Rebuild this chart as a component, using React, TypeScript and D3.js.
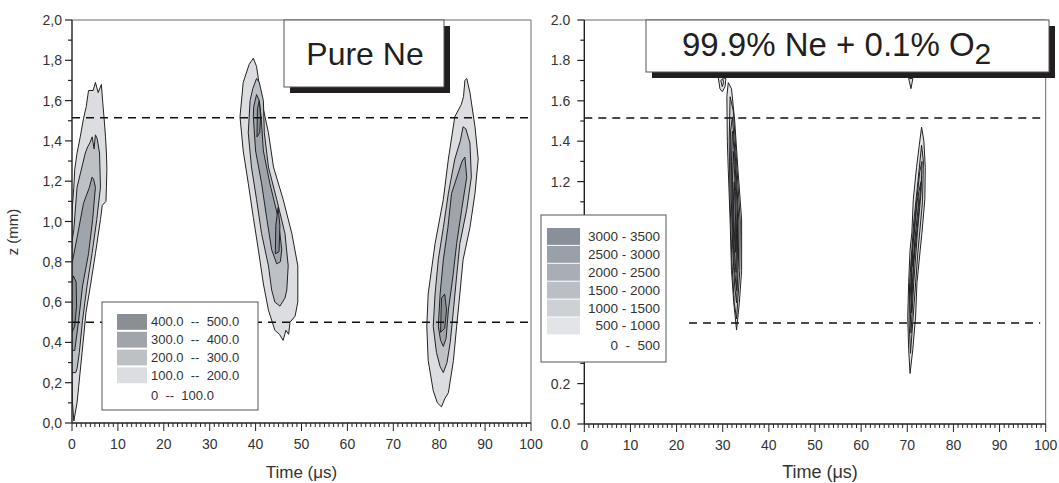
import React, { useEffect, useRef } from 'react'
import * as d3 from 'd3'

// axis ticks and labels
const timeTicks = [0, 10, 20, 30, 40, 50, 60, 70, 80, 90, 100]
const zTicks = [0, 0.2, 0.4, 0.6, 0.8, 1.0, 1.2, 1.4, 1.6, 1.8, 2.0]
const leftZLabels = ['0,0', '0,2', '0,4', '0,6', '0,8', '1,0', '1,2', '1,4', '1,6', '1,8', '2,0']
const rightZLabels = ['0.0', '0.2', '0.4', '0.6', '0.8', '1.0', '1.2', '1.4', '1.6', '1.8', '2.0']
const dashedZ = [0.5, 1.515]

// legends
const pureNeRanges = ['400.0  --  500.0', '300.0  --  400.0', '200.0  --  300.0', '100.0  --  200.0', '0  --  100.0']
const pureNeColors = ['#8a8f96', '#a0a5ac', '#bdc0c5', '#dcdde0', 'none']
const oxyRanges = ['3000 - 3500', '2500 - 3000', '2000 - 2500', '1500 - 2000', '1000 - 1500', '500 - 1000', '0  -  500']
const oxyColors = ['#8a9099', '#9aa0a8', '#a9aeb6', '#babfc5', '#cdd0d5', '#e2e4e7', 'none']

// contour outlines, [time µs, z mm], level 1 = lowest filled band
const pureNeBlob1 = [
  { level: 1, pts: [[0.4, 0.01], [1.1, 0.1], [1.45, 0.18], [2.2, 0.35], [3.05, 0.55], [4.0, 0.68], [5.1, 0.84], [6.2, 1.01], [6.6, 1.08], [7.4, 1.1], [7.5, 1.17], [7.6, 1.26], [7.5, 1.34], [7.3, 1.42], [7.0, 1.51], [6.7, 1.59], [6.4, 1.68], [5.7, 1.64], [5.1, 1.69], [4.6, 1.65], [3.6, 1.65], [3.1, 1.57], [2.5, 1.51], [1.8, 1.42], [1.1, 1.34], [0.6, 1.26], [0.4, 1.17], [0.1, 1.08], [0, 1.0], [0, 0.3], [0.1, 0.1]] },
  { level: 2, pts: [[0, 0.25], [0.8, 0.25], [1.1, 0.27], [1.6, 0.35], [2.3, 0.51], [3.27, 0.68], [4.36, 0.84], [5.4, 1.01], [6.2, 1.17], [6.0, 1.34], [5.5, 1.41], [5.1, 1.43], [4.8, 1.36], [4.4, 1.42], [3.9, 1.39], [3.4, 1.37], [2.9, 1.34], [1.1, 1.17], [0.4, 0.96], [0, 0.9]] },
  { level: 3, pts: [[0, 0.36], [0.6, 0.36], [1.45, 0.51], [2.3, 0.68], [3.6, 0.84], [4.5, 1.01], [5.1, 1.17], [4.7, 1.21], [4.36, 1.22], [3.8, 1.17], [2.5, 1.09], [1.1, 0.92], [0, 0.79]] },
  { level: 4, pts: [[0, 0.45], [0.6, 0.48], [1.0, 0.58], [0.9, 0.7], [0.3, 0.73], [0, 0.7]] },
]
const pureNeBlob2 = [
  { level: 1, pts: [[46.0, 0.41], [46.6, 0.46], [47.2, 0.44], [47.5, 0.5], [48.6, 0.53], [49.2, 0.6], [49.2, 0.78], [47.9, 0.94], [46.0, 1.11], [43.9, 1.27], [42.8, 1.44], [41.3, 1.6], [40.2, 1.77], [39.5, 1.81], [38.6, 1.78], [37.3, 1.69], [36.6, 1.52], [37.3, 1.35], [38.4, 1.19], [39.5, 1.02], [40.6, 0.86], [41.7, 0.69], [42.8, 0.56], [44.2, 0.46], [45.2, 0.44]] },
  { level: 2, pts: [[45.3, 0.58], [46.4, 0.62], [46.8, 0.66], [47.1, 0.78], [46.4, 0.94], [44.6, 1.11], [42.8, 1.27], [41.9, 1.44], [41.7, 1.6], [40.8, 1.69], [40.2, 1.71], [39.4, 1.66], [38.8, 1.6], [38.4, 1.44], [39.1, 1.27], [40.2, 1.11], [41.3, 0.94], [42.8, 0.78], [43.5, 0.66], [44.2, 0.6]] },
  { level: 3, pts: [[44.6, 0.79], [45.4, 0.8], [45.7, 0.86], [44.9, 1.02], [43.1, 1.19], [41.7, 1.35], [41.2, 1.52], [40.8, 1.6], [40.2, 1.63], [39.6, 1.57], [39.5, 1.52], [40.0, 1.35], [41.3, 1.19], [42.4, 1.02], [43.5, 0.86]] },
  { level: 4, pts: [[40.3, 1.42], [40.9, 1.44], [41.1, 1.52], [40.8, 1.6], [40.4, 1.56]] },
  { level: 4, pts: [[44.3, 0.84], [45.1, 0.85], [45.3, 0.98], [44.9, 1.07], [44.4, 0.98]] },
]
const pureNeBlob3 = [
  { level: 1, pts: [[80.5, 0.08], [81.2, 0.12], [82.0, 0.15], [83.1, 0.31], [83.8, 0.48], [84.5, 0.64], [85.2, 0.81], [86.7, 0.97], [87.8, 1.14], [88.5, 1.31], [87.8, 1.47], [86.7, 1.64], [86.0, 1.71], [85.6, 1.7], [85.3, 1.62], [84.8, 1.58], [83.4, 1.52], [82.0, 1.31], [80.9, 1.11], [79.1, 0.89], [77.6, 0.64], [77.3, 0.48], [77.6, 0.31], [78.7, 0.16], [79.6, 0.1]] },
  { level: 2, pts: [[80.9, 0.25], [81.7, 0.3], [82.4, 0.4], [83.1, 0.56], [83.8, 0.73], [84.5, 0.89], [86.0, 1.06], [87.0, 1.22], [86.7, 1.39], [85.8, 1.46], [85.2, 1.47], [84.6, 1.4], [83.4, 1.31], [82.0, 1.14], [80.9, 0.97], [79.8, 0.81], [79.1, 0.64], [78.7, 0.48], [79.4, 0.35], [80.2, 0.28]] },
  { level: 3, pts: [[80.9, 0.38], [81.5, 0.42], [82.0, 0.56], [83.0, 0.73], [83.8, 0.89], [84.9, 1.06], [86.0, 1.22], [85.6, 1.32], [85.0, 1.3], [82.7, 1.14], [81.9, 0.97], [80.9, 0.81], [80.2, 0.64], [79.8, 0.48], [80.3, 0.41]] },
  { level: 4, pts: [[80.3, 0.45], [81.2, 0.47], [81.6, 0.56], [81.2, 0.64], [80.5, 0.62]] },
]
const oxyBlob1 = [
  { level: 1, pts: [[33.0, 0.465], [33.6, 0.6], [34.1, 0.76], [34.1, 1.01], [33.3, 1.26], [32.6, 1.5], [31.9, 1.66], [31.2, 1.69], [30.9, 1.62], [31.0, 1.4], [31.2, 1.26], [31.6, 1.01], [31.9, 0.76], [32.4, 0.6]] },
  { level: 2, pts: [[33.0, 0.52], [33.7, 0.76], [33.8, 1.0], [33.0, 1.3], [32.3, 1.55], [31.6, 1.62], [31.4, 1.4], [31.6, 1.1], [32.0, 0.8], [32.5, 0.6]] },
  { level: 3, pts: [[33.0, 0.6], [33.4, 0.8], [33.5, 1.0], [32.8, 1.3], [32.1, 1.52], [31.7, 1.45], [31.8, 1.15], [32.2, 0.85], [32.6, 0.68]] },
  { level: 4, pts: [[33.0, 0.66], [33.2, 0.85], [33.2, 1.05], [32.6, 1.32], [32.1, 1.45], [31.9, 1.3], [32.1, 1.0], [32.5, 0.78]] },
  { level: 5, pts: [[32.9, 0.75], [33.0, 0.95], [32.8, 1.15], [32.3, 1.35], [32.1, 1.2], [32.4, 0.9], [32.7, 0.8]] },
  { level: 6, pts: [[32.8, 0.85], [32.8, 1.0], [32.5, 1.2], [32.3, 1.1], [32.6, 0.9]] },
  { level: 1, pts: [[29.0, 1.72], [29.4, 1.66], [29.9, 1.645], [30.5, 1.67], [30.7, 1.71]] },
  { level: 2, pts: [[29.6, 1.7], [29.9, 1.67], [30.2, 1.69], [30.0, 1.71]] },
]
const oxyBlob2 = [
  { level: 1, pts: [[70.6, 0.25], [71.2, 0.37], [71.8, 0.53], [72.1, 0.7], [72.8, 0.86], [73.2, 0.95], [73.8, 1.11], [73.9, 1.27], [73.6, 1.4], [73.1, 1.47], [72.6, 1.38], [72.0, 1.27], [71.3, 1.11], [71.0, 0.95], [70.6, 0.86], [70.3, 0.7], [70.1, 0.53], [70.3, 0.37]] },
  { level: 2, pts: [[70.7, 0.35], [71.5, 0.6], [72.3, 0.85], [73.3, 1.1], [73.5, 1.3], [73.1, 1.38], [72.3, 1.2], [71.4, 1.0], [70.5, 0.7], [70.4, 0.5]] },
  { level: 3, pts: [[70.8, 0.45], [71.4, 0.7], [72.2, 0.95], [73.0, 1.15], [73.2, 1.3], [72.7, 1.25], [71.8, 1.05], [70.9, 0.8], [70.6, 0.6]] },
  { level: 4, pts: [[70.9, 0.55], [71.4, 0.8], [72.5, 1.05], [73.0, 1.2], [72.5, 1.15], [71.6, 0.95], [70.9, 0.7]] },
  { level: 5, pts: [[71.0, 0.65], [71.6, 0.9], [72.5, 1.1], [72.2, 1.12], [71.4, 0.92], [70.9, 0.75]] },
  { level: 6, pts: [[71.2, 0.78], [71.8, 0.95], [71.5, 0.95], [71.1, 0.85]] },
  { level: 1, pts: [[70.3, 1.71], [71.2, 1.71], [70.8, 1.66]] },
]

const FONT = '"Liberation Sans", Arial, Helvetica, sans-serif'

function drawPanel(svg, cfg) {
  const x = d3.scaleLinear().domain([0, 100]).range(cfg.xr)
  const y = d3.scaleLinear().domain([0, 2]).range(cfg.yr)
  const g = svg.append('g')

  g.append('clipPath').attr('id', cfg.id + '-clip')
    .append('rect')
    .attr('x', x(0)).attr('y', y(2))
    .attr('width', x(100) - x(0)).attr('height', y(0) - y(2))

  // frame (top + right)
  g.append('path')
    .attr('d', `M${x(0)},${y(2)}H${x(100)}V${y(0)}`)
    .attr('fill', 'none').attr('stroke', '#6a6a6a').attr('stroke-width', 1)

  // contours
  const line = d3.line().x(d => x(d[0])).y(d => y(d[1])).curve(d3.curveLinearClosed)
  const cg = g.append('g').attr('clip-path', `url(#${cfg.id}-clip)`)
  cfg.blobs.forEach(blob => {
    blob.forEach(c => {
      cg.append('path')
        .attr('d', line(c.pts))
        .attr('fill', cfg.fills[c.level - 1])
        .attr('stroke', '#222')
        .attr('stroke-width', cfg.strokeW)
        .attr('stroke-linejoin', 'round')
    })
  })

  // dashed reference lines
  cfg.dashed.forEach(dl => {
    g.append('line')
      .attr('x1', x(dl.from)).attr('x2', x(dl.to))
      .attr('y1', y(dl.z)).attr('y2', y(dl.z))
      .attr('stroke', '#111').attr('stroke-width', 1.5)
      .attr('stroke-dasharray', '8,6')
  })

  // y axis
  const ya = g.append('g')
  ya.append('line').attr('x1', x(0)).attr('x2', x(0)).attr('y1', y(0)).attr('y2', y(2))
    .attr('stroke', '#222').attr('stroke-width', 1.4)
  d3.range(0, 21).forEach(i => {
    const v = i / 10
    ya.append('line').attr('x1', x(0)).attr('x2', x(0) - (i % 2 === 0 ? 7 : 4))
      .attr('y1', y(v)).attr('y2', y(v)).attr('stroke', '#222').attr('stroke-width', 1.2)
  })
  zTicks.forEach((v, i) => {
    ya.append('text').attr('x', x(0) - cfg.labelPad).attr('y', y(v))
      .attr('text-anchor', 'end').attr('dominant-baseline', 'central')
      .attr('font-size', 14).attr('fill', '#333').attr('font-family', FONT)
      .text(cfg.zLabels[i])
  })

  // x axis
  const xa = g.append('g')
  xa.append('line').attr('x1', x(0)).attr('x2', x(100)).attr('y1', y(0)).attr('y2', y(0))
    .attr('stroke', '#222').attr('stroke-width', 1.4)
  d3.range(0, 101).forEach(t => {
    xa.append('line').attr('x1', x(t)).attr('x2', x(t))
      .attr('y1', y(0)).attr('y2', y(0) + (t % 10 === 0 ? 8 : 4))
      .attr('stroke', '#222').attr('stroke-width', 1)
  })
  timeTicks.forEach(t => {
    xa.append('text').attr('x', x(t)).attr('y', y(0) + 26)
      .attr('text-anchor', 'middle')
      .attr('font-size', 14).attr('fill', '#333').attr('font-family', FONT)
      .text(t)
  })
  g.append('text').attr('x', (x(0) + x(100)) / 2 + cfg.xTitleShift).attr('y', 478)
    .attr('text-anchor', 'middle').attr('font-size', cfg.xTitleSize).attr('fill', '#333')
    .attr('font-family', FONT).text('Time (μs)')

  // legend
  const lg = cfg.legend
  const lgG = g.append('g')
  lgG.append('rect').attr('x', lg.x0).attr('y', lg.y0)
    .attr('width', lg.x1 - lg.x0).attr('height', lg.y1 - lg.y0)
    .attr('fill', '#fff').attr('stroke', '#555').attr('stroke-width', 1)
  lg.labels.forEach((lab, i) => {
    const ry = lg.rowTop + i * lg.rowH
    if (lg.colors[i] !== 'none') {
      lgG.append('rect').attr('x', lg.sx).attr('y', ry)
        .attr('width', lg.sw).attr('height', lg.rowH - lg.gap)
        .attr('fill', lg.colors[i])
    }
    lgG.append('text')
      .attr('x', lg.tx)
      .attr('y', ry + (lg.rowH - lg.gap) / 2 + (lg.colors[i] === 'none' ? 2 : 0))
      .attr('text-anchor', lg.anchor).attr('dominant-baseline', 'central')
      .attr('font-size', lg.fs).attr('fill', '#333').attr('font-family', FONT)
      .style('white-space', 'pre')
      .text(lab)
  })

  // title box with shadow
  const tb = cfg.title
  g.append('rect').attr('x', tb.x0 + 6).attr('y', tb.y0 + 6)
    .attr('width', tb.x1 - tb.x0).attr('height', tb.y1 - tb.y0).attr('fill', '#231f20')
  g.append('rect').attr('x', tb.x0).attr('y', tb.y0)
    .attr('width', tb.x1 - tb.x0).attr('height', tb.y1 - tb.y0)
    .attr('fill', '#fff').attr('stroke', '#555').attr('stroke-width', 1)
  tb.draw(g)
}

export default function App() {
  const ref = useRef(null)

  useEffect(() => {
    const svg = d3.select(ref.current)
    svg.selectAll('*').remove()
    svg.append('rect').attr('width', 1059).attr('height', 483).attr('fill', '#fff')

    drawPanel(svg, {
      id: 'pure',
      xr: [72, 531], yr: [423, 20],
      zLabels: leftZLabels, labelPad: 10,
      blobs: [pureNeBlob1, pureNeBlob2, pureNeBlob3],
      fills: ['#dcdde0', '#bdc0c5', '#a0a5ac', '#8a8f96'],
      strokeW: 1,
      dashed: [{ z: dashedZ[0], from: 0, to: 100 }, { z: dashedZ[1], from: 0, to: 100 }],
      xTitleShift: 0, xTitleSize: 17,
      legend: {
        x0: 102, y0: 302, x1: 258, y1: 410,
        sx: 117, sw: 30, rowTop: 314, rowH: 17.8, gap: 2,
        tx: 151, anchor: 'start', fs: 13,
        labels: pureNeRanges, colors: pureNeColors,
      },
      title: {
        x0: 284, y0: 20, x1: 444, y1: 87,
        draw: gg => gg.append('text').attr('x', 365).attr('y', 65)
          .attr('text-anchor', 'middle').attr('font-size', 32).attr('fill', '#231f20')
          .attr('font-family', FONT).text('Pure Ne'),
      },
    })

    drawPanel(svg, {
      id: 'oxy',
      xr: [584.3, 1045.7], yr: [424, 20],
      zLabels: rightZLabels, labelPad: 14,
      blobs: [oxyBlob1, oxyBlob2],
      fills: ['#e2e4e7', '#cdd0d5', '#babfc5', '#a9aeb6', '#9aa0a8', '#8a9099'],
      strokeW: 1,
      dashed: [{ z: dashedZ[0], from: 22.7, to: 98.8 }, { z: dashedZ[1], from: 0, to: 98.8 }],
      xTitleShift: 5, xTitleSize: 18,
      legend: {
        x0: 541, y0: 215, x1: 666, y1: 362,
        sx: 547, sw: 33, rowTop: 228, rowH: 17.9, gap: 1,
        tx: 660, anchor: 'end', fs: 13.5,
        labels: oxyRanges, colors: oxyColors,
      },
      title: {
        x0: 646, y0: 20, x1: 1049, y1: 72,
        draw: gg => {
          const t = gg.append('text').attr('x', 682).attr('y', 56)
            .attr('font-size', 33).attr('fill', '#231f20').attr('font-family', FONT)
          t.append('tspan').text('99.9% Ne + 0.1% O')
          t.append('tspan').attr('dy', 8).attr('font-size', 30).text('2')
        },
      },
    })

    // shared y axis title
    svg.append('text')
      .attr('transform', 'translate(18,232) rotate(-90)')
      .attr('text-anchor', 'middle').attr('font-size', 15).attr('fill', '#333')
      .attr('font-family', FONT).text('z (mm)')
  }, [])

  return (
    <svg ref={ref} width={1059} height={483}
      style={{ position: 'absolute', left: 0, top: 0, display: 'block' }} />
  )
}
